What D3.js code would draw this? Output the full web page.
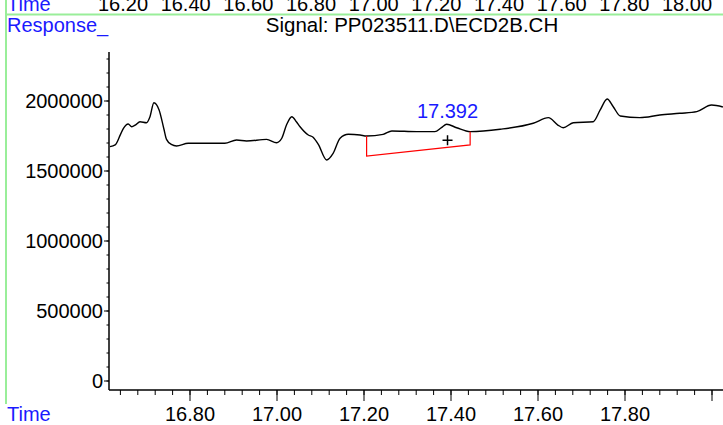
<!DOCTYPE html>
<html>
<head>
<meta charset="utf-8">
<script src="https://cdn.jsdelivr.net/npm/d3@7"></script>
<style>
  body { margin: 0; background: #fff; }
  svg { display: block; font-family: "Liberation Sans", Arial, sans-serif; }
</style>
</head>
<body>
<script>
// DATA
const TIMES = [16.616, 16.628, 16.640, 16.647, 16.658, 16.666, 16.675, 16.685, 16.700, 16.708,
  16.717, 16.729, 16.740, 16.746, 16.757, 16.769, 16.796, 16.880, 16.907, 16.930,
  16.976, 16.999, 17.011, 17.022, 17.034, 17.045, 17.053, 17.072, 17.083, 17.095,
  17.114, 17.129, 17.145, 17.164, 17.191, 17.206, 17.244, 17.264, 17.321, 17.363,
  17.378, 17.390, 17.413, 17.444, 17.513, 17.589, 17.624, 17.645, 17.658, 17.681,
  17.727, 17.743, 17.759, 17.773, 17.789, 17.834, 17.880, 17.926, 17.965, 17.999, 18.025];
const RESPONSE = [1674000, 1686000, 1760000, 1805000, 1836000, 1816000, 1830000, 1852000, 1845000, 1888000,
  1988000, 1936000, 1800000, 1726000, 1690000, 1679000, 1698000, 1698000, 1721000, 1714000,
  1726000, 1702000, 1734000, 1830000, 1888000, 1850000, 1816000, 1757000, 1741000, 1690000,
  1579000, 1626000, 1734000, 1762000, 1757000, 1750000, 1762000, 1786000, 1781000, 1781000,
  1810000, 1834000, 1809000, 1781000, 1798000, 1841000, 1881000, 1830000, 1809000, 1845000,
  1852000, 1936000, 2014000, 1959000, 1893000, 1881000, 1900000, 1912000, 1924000, 1971000, 1957000];
const BASELINE_T = [17.206, 17.206, 17.444, 17.444];
const BASELINE_V = [1750000, 1607000, 1686000, 1781000];
const PEAK_T = 17.392;
const PEAK_V = 1834000;
const PEAK_MARK_V = 1720000;
const PEAK_LABEL = "17.392";
const Y_TICKS = [0, 500000, 1000000, 1500000, 2000000];
const X_TICKS = [16.80, 17.00, 17.20, 17.40, 17.60, 17.80, 18.00];
const TOP_TICKS = [16.20, 16.40, 16.60, 16.80, 17.00, 17.20, 17.40, 17.60, 17.80, 18.00];
const TITLE = "Signal: PP023511.D\\ECD2B.CH";

// CONSTANTS
const WIDTH = 723, HEIGHT = 425;
const AXIS_X = 109, AXIS_Y = 390;
const GREEN = '#99ee99';
const BLUE = '#1a1aff';

const X_SCALE = d3.scaleLinear().domain([16.80, 18.00]).range([190, 712]);
const Y_SCALE = d3.scaleLinear().domain([0, 2000000]).range([381, 101]);
const TOP_SCALE = d3.scaleLinear().domain([16.20, 18.00]).range([123, 687]);

const svg = d3.select('body').append('svg')
  .attr('width', WIDTH)
  .attr('height', HEIGHT);

// GREEN FRAME
svg.append('line').attr('x1', 6).attr('x2', 6).attr('y1', 0).attr('y2', 404)
  .attr('stroke', GREEN).attr('stroke-width', 2);
svg.append('line').attr('x1', 6).attr('x2', WIDTH).attr('y1', 14.5).attr('y2', 14.5)
  .attr('stroke', GREEN).attr('stroke-width', 2);

// TOP STRIP (cut off at the top edge, as in the original)
svg.append('text').attr('x', 7).attr('y', 11).attr('fill', BLUE)
  .style('font-size', '20px').text('Time');
svg.selectAll('.top-lab').data(TOP_TICKS).enter().append('text')
  .attr('class', 'top-lab')
  .attr('x', d => TOP_SCALE(d)).attr('y', 11)
  .attr('text-anchor', 'middle').style('font-size', '20px')
  .text(d => d.toFixed(2));

// HEADERS
svg.append('text').attr('x', 7).attr('y', 32).attr('fill', BLUE)
  .style('font-size', '20px').text('Response_');
svg.append('text').attr('x', 412).attr('y', 32).attr('text-anchor', 'middle')
  .style('font-size', '20.5px').text(TITLE);

// Y-AXIS
const Y_TOP = Y_SCALE(2350000);
svg.append('line').attr('x1', AXIS_X).attr('x2', AXIS_X).attr('y1', Y_TOP).attr('y2', AXIS_Y)
  .attr('stroke', '#000').attr('stroke-width', 1.5);
const yMinor = d3.range(0, 2350001, 100000);
svg.selectAll('.y-minor').data(yMinor).enter().append('line')
  .attr('x1', AXIS_X - 2.5).attr('x2', AXIS_X)
  .attr('y1', d => Y_SCALE(d)).attr('y2', d => Y_SCALE(d))
  .attr('stroke', '#000').attr('stroke-width', 1);
svg.selectAll('.y-major').data(Y_TICKS).enter().append('line')
  .attr('x1', AXIS_X - 5).attr('x2', AXIS_X)
  .attr('y1', d => Y_SCALE(d)).attr('y2', d => Y_SCALE(d))
  .attr('stroke', '#000').attr('stroke-width', 1);
svg.selectAll('.y-lab').data(Y_TICKS).enter().append('text')
  .attr('x', AXIS_X - 6).attr('y', d => Y_SCALE(d)).attr('dy', '0.35em')
  .attr('text-anchor', 'end').style('font-size', '20px')
  .text(d => d);

// X-AXIS
svg.append('line').attr('x1', AXIS_X).attr('x2', WIDTH).attr('y1', AXIS_Y).attr('y2', AXIS_Y)
  .attr('stroke', '#000').attr('stroke-width', 1.5);
const xMinor = d3.range(16.64, 18.03, 0.04);
svg.selectAll('.x-minor').data(xMinor).enter().append('line')
  .attr('x1', d => X_SCALE(d)).attr('x2', d => X_SCALE(d))
  .attr('y1', AXIS_Y).attr('y2', AXIS_Y + 5)
  .attr('stroke', '#000').attr('stroke-width', 1);
svg.selectAll('.x-major').data(X_TICKS).enter().append('line')
  .attr('x1', d => X_SCALE(d)).attr('x2', d => X_SCALE(d))
  .attr('y1', AXIS_Y).attr('y2', AXIS_Y + 11)
  .attr('stroke', '#000').attr('stroke-width', 1);
svg.selectAll('.x-lab').data(X_TICKS.slice(0, -1)).enter().append('text')
  .attr('x', d => X_SCALE(d)).attr('y', 421)
  .attr('text-anchor', 'middle').style('font-size', '20px')
  .text(d => d.toFixed(2));
svg.append('text').attr('x', 7).attr('y', 421).attr('fill', BLUE)
  .style('font-size', '20px').text('Time');

// SIGNAL
const points = TIMES.map((t, i) => [t, RESPONSE[i]]);
svg.append('path')
  .datum(points)
  .attr('d', d3.line().x(d => X_SCALE(d[0])).y(d => Y_SCALE(d[1])).curve(d3.curveMonotoneX))
  .attr('fill', 'none').attr('stroke', '#000').attr('stroke-width', 1.4);

// BASELINE
const base = BASELINE_T.map((t, i) => [t, BASELINE_V[i]]);
svg.append('path')
  .datum(base)
  .attr('d', d3.line().x(d => X_SCALE(d[0])).y(d => Y_SCALE(d[1])))
  .attr('fill', 'none').attr('stroke', '#ff0000').attr('stroke-width', 1.2);

// PEAK MARK
const px = X_SCALE(PEAK_T), py = Y_SCALE(PEAK_MARK_V);
svg.append('path')
  .attr('d', `M${px - 5},${py}H${px + 5}M${px},${py - 5}V${py + 5}`)
  .attr('stroke', '#000').attr('stroke-width', 1.5);
svg.append('text').attr('x', X_SCALE(PEAK_T)).attr('y', Y_SCALE(PEAK_V) - 6)
  .attr('text-anchor', 'middle').attr('fill', BLUE).style('font-size', '20px')
  .text(PEAK_LABEL);
</script>
</body>
</html>
